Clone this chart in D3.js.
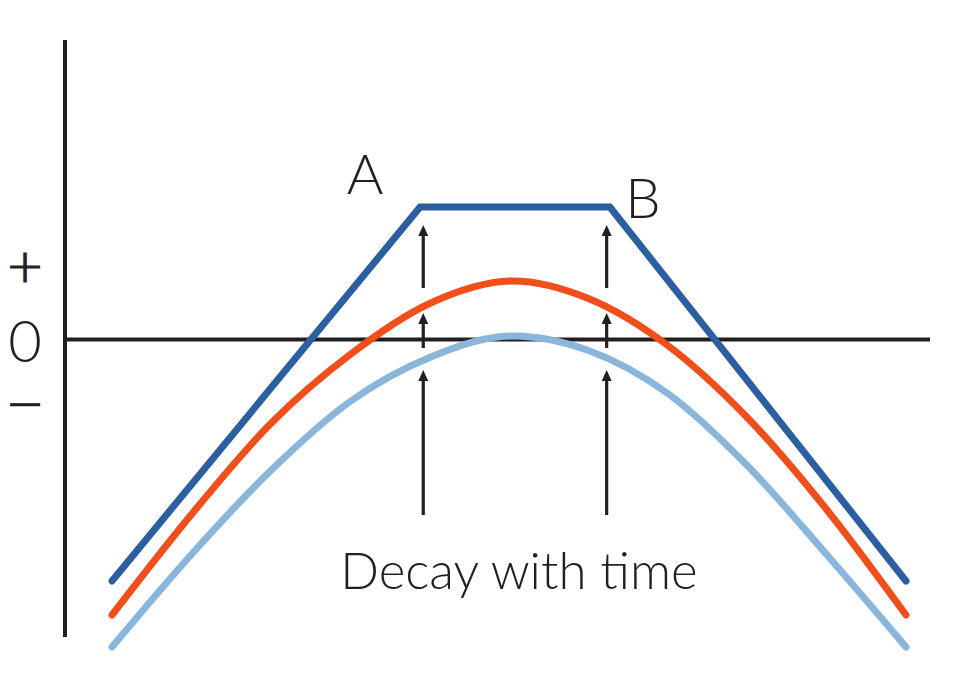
<!DOCTYPE html>
<html>
<head>
<meta charset="utf-8">
<script src="https://cdn.jsdelivr.net/npm/d3@7"></script>
<style>
  html, body { margin: 0; padding: 0; background: #fff; }
  svg { display: block; }
  text { font-family: Lato, "Open Sans", "DejaVu Sans", sans-serif; font-weight: 300; fill: #231f20; }
  text.sym { font-family: "DejaVu Sans", sans-serif; font-weight: 200; stroke: #231f20; stroke-width: 1.2px; }
</style>
</head>
<body>
<div id="chart"></div>
<script>
// ---- data (x: time position 0..10, y: value, 0 = zero line) ----
const darkX  = [0, 3.88, 6.27, 10];
const darkY  = [-2.415, 1.325, 1.325, -2.415];

const orangeX = [0, 1, 2, 3, 4, 5.05, 6, 7, 8, 9, 10];
const orangeY = [-2.755, -1.75, -0.84, -0.15, 0.36, 0.585, 0.41, -0.06, -0.78, -1.7, -2.755];

const lightX = [0, 1, 2, 3, 4, 5.05, 6, 7, 8, 9, 10];
const lightY = [-3.075, -2.15, -1.31, -0.62, -0.18, 0.035, -0.11, -0.54, -1.26, -2.15, -3.075];

const arrowX = [3.92, 6.23];
const arrowTail = [0.515, -0.085, -1.755];
const arrowTip  = [1.145, 0.265, -0.305];

const signLabels = ["+", "0", "\u2212"];
const signValues = [0.74, 0, -0.63];
const signSizes = [46, 58, 46];
const signClass = ["sign sym", "sign", "sign sym"];
const pointLabels = ["A", "B"];
const caption = "Decay with time";

// ---- layout ----
const W = 960, H = 680;
const x = d3.scaleLinear().domain([0, 10]).range([112, 906]);
const y = d3.scaleLinear().domain([-3, 3]).range([639.5, 39.5]);
const axisX = 65, axisRight = 930;

const svg = d3.select("#chart").append("svg").attr("width", W).attr("height", H);

// axes
svg.append("line").attr("x1", axisX).attr("x2", axisX).attr("y1", y(2.995)).attr("y2", y(-2.975))
  .attr("stroke", "#231f20").attr("stroke-width", 4);
svg.append("line").attr("x1", axisX).attr("x2", axisRight).attr("y1", y(0)).attr("y2", y(0))
  .attr("stroke", "#231f20").attr("stroke-width", 4);

// sign labels
svg.selectAll("text.sign").data(signLabels).join("text").attr("class", (d, i) => signClass[i])
  .attr("x", 25).attr("y", (d, i) => y(signValues[i]))
  .attr("text-anchor", "middle").attr("dominant-baseline", "central")
  .attr("font-size", (d, i) => signSizes[i]).text(d => d);

// curves
const smooth = (xs, ys) => d3.line().x(d => x(d[0])).y(d => y(d[1])).curve(d3.curveMonotoneX)(xs.map((v, i) => [v, ys[i]]));
svg.append("path").attr("d", smooth(lightX, lightY)).attr("fill", "none")
  .attr("stroke", "#8ab6dc").attr("stroke-width", 7).attr("stroke-linecap", "round");
svg.append("path").attr("d", smooth(orangeX, orangeY)).attr("fill", "none")
  .attr("stroke", "#f04e1a").attr("stroke-width", 7).attr("stroke-linecap", "round");
svg.append("path")
  .attr("d", d3.line().x(d => x(d[0])).y(d => y(d[1]))(darkX.map((v, i) => [v, darkY[i]])))
  .attr("fill", "none").attr("stroke", "#2c5f9f").attr("stroke-width", 7)
  .attr("stroke-linecap", "round").attr("stroke-linejoin", "miter");

// arrows
const arrows = [];
arrowX.forEach(ax => arrowTail.forEach((t, i) => arrows.push({ax, tail: t, tip: arrowTip[i]})));
const ag = svg.selectAll("g.arrow").data(arrows).join("g").attr("class", "arrow");
ag.append("line").attr("x1", d => x(d.ax)).attr("x2", d => x(d.ax))
  .attr("y1", d => y(d.tail)).attr("y2", d => y(d.tip) + 8)
  .attr("stroke", "#231f20").attr("stroke-width", 3.2);
ag.append("path").attr("d", d => {
  const cx = x(d.ax), ty = y(d.tip);
  return `M${cx},${ty} L${cx - 5},${ty + 11} L${cx + 5},${ty + 11} Z`;
}).attr("fill", "#231f20");

// point labels
svg.append("text").attr("x", 365).attr("y", 194).attr("text-anchor", "middle").attr("font-size", 56).text(pointLabels[0]);
svg.append("text").attr("x", 643).attr("y", 218).attr("text-anchor", "middle").attr("font-size", 56).text(pointLabels[1]);

// caption
svg.append("text").attr("x", 519).attr("y", 589).attr("text-anchor", "middle").attr("font-size", 51).text(caption);
</script>
</body>
</html>
